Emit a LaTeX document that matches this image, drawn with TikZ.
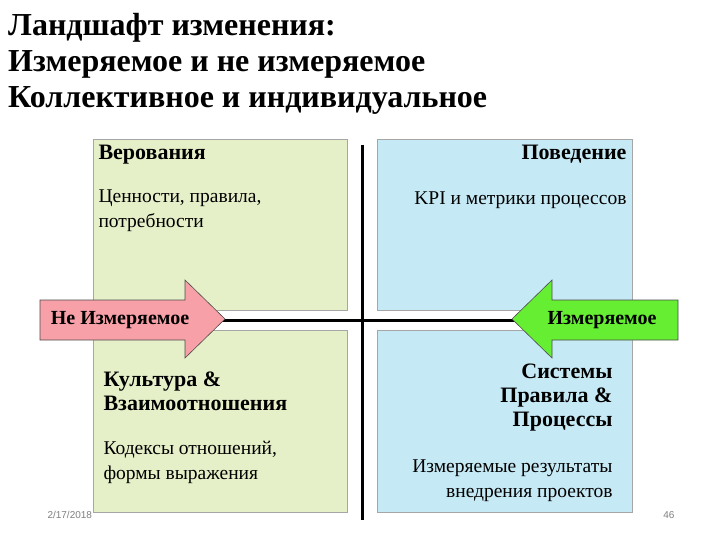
\documentclass[tikz,border=0pt]{standalone}
\usepackage{fontspec}
\setmainfont{Liberation Serif}
\newfontfamily\footfont{Liberation Sans}
\definecolor{gbox}{HTML}{E6F0C8}
\definecolor{bbox}{HTML}{C5E9F5}
\definecolor{pinkarr}{HTML}{F7A0A8}
\definecolor{greenarr}{HTML}{66EE33}
\begin{document}
\begin{tikzpicture}[x=1pt,y=-1pt,
  quad/.style={draw=gray!70,line width=1pt},
  head/.style={font=\bfseries\fontsize{22}{24}\selectfont},
  body/.style={font=\fontsize{19.5}{25}\selectfont},
  arr/.style={draw=gray!60!black,line width=0.6pt},
  foot/.style={font=\footfont\fontsize{10}{12}\selectfont,text=gray}]
\useasboundingbox (0,0) rectangle (720,540);
\fill[white] (0,0) rectangle (720,540);
\node[anchor=west,font=\bfseries\fontsize{32}{36}\selectfont,align=left,inner sep=0pt] (title) at (8,64)
 {Ландшафт изменения:\\Измеряемое и не измеряемое\\Коллективное и индивидуальное};
\fill[quad,fill=gbox] (93,140) rectangle (347,310);
\fill[quad,fill=gbox] (93,330) rectangle (347,512);
\fill[quad,fill=bbox] (377,140) rectangle (632,310);
\fill[quad,fill=bbox] (377,330) rectangle (632,512);
\draw[quad] (93,140) rectangle (347,310) (93,330) rectangle (347,512) (377,140) rectangle (632,310) (377,330) rectangle (632,512);
\coordinate (vt) at (362,145); \coordinate (vb) at (362,520);
\coordinate (hl) at (220,320); \coordinate (hr) at (520,320);
\draw[line width=3pt] (vt) -- (vb);
\draw[line width=3pt] (hl) -- (hr);
\node[head,anchor=north west] (b1) at (95,142) {Верования};
\node[body,anchor=north west,align=left] (b2) at (95,186) {Ценности, правила,\\потребности};
\node[head,anchor=north east] (p1) at (630,142) {Поведение};
\node[body,anchor=north east] (p2) at (630,188) {KPI и метрики процессов};
\node[head,anchor=north west,align=left] (k1) at (100,368) {Культура \&\\Взаимоотношения};
\node[body,anchor=north west,align=left] (k2) at (100,438) {Кодексы отношений,\\формы выражения};
\node[head,anchor=north east,align=right] (s1) at (616,360) {Системы\\Правила \&\\Процессы};
\node[body,anchor=north east,align=right] (s2) at (616,456) {Измеряемые результаты\\внедрения проектов};
\filldraw[arr,fill=pinkarr] (40,300) -- (185,300) -- (185,280) -- (225,319) -- (185,358) -- (185,340) -- (40,340) -- cycle;
\filldraw[arr,fill=greenarr] (678,300) -- (552,300) -- (552,280) -- (512,319) -- (552,358) -- (552,340) -- (678,340) -- cycle;
\node[font=\bfseries\fontsize{20}{22}\selectfont] (ne) at (120,320) {Не Измеряемое};
\node[font=\bfseries\fontsize{20}{22}\selectfont] (iz) at (602,320) {Измеряемое};
\node[foot,anchor=west] (d) at (44,515) {2/17/2018};
\node[foot,anchor=east] (n) at (678,515) {46};
\end{tikzpicture}
\end{document}
